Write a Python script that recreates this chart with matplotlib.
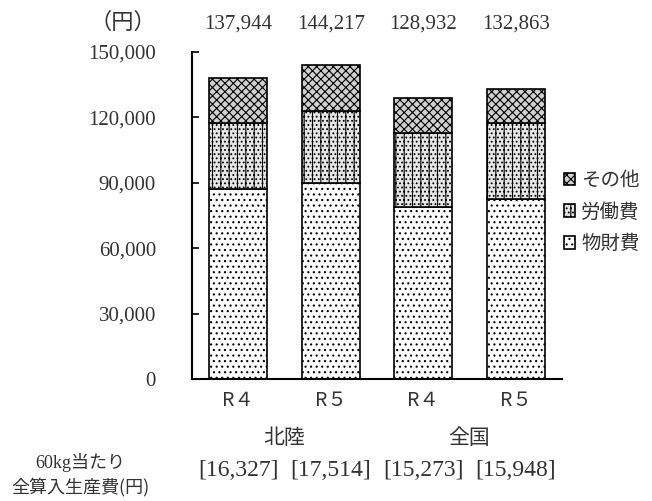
import matplotlib.pyplot as plt
import matplotlib.transforms as mtransforms
import numpy as np

plt.rcParams["font.family"] = ["Liberation Serif", "Noto Sans CJK JP"]
plt.rcParams["hatch.linewidth"] = 0.8

groups = ["北陸", "全国"]
years = ["R４", "R５", "R４", "R５"]
material = [87200, 90000, 79000, 82500]      # 物財費
labor = [30300, 33000, 34000, 35000]         # 労働費
totals = [137944, 144217, 128932, 132863]
other = [t - m - l for t, m, l in zip(totals, material, labor)]  # その他
per60kg = ["[16,327]", "[17,514]", "[15,273]", "[15,948]"]

fig = plt.figure(figsize=(6.52, 5.01), dpi=100)
ax = fig.add_axes([192 / 652, 1 - 379 / 501, 370 / 652, 327 / 501])

x = np.arange(len(years))
w = 0.63
txt = "#333333"
cjk = ["Noto Sans CJK JP"]

b1 = ax.bar(x, material, w, color="white", edgecolor="black", hatch="...", linewidth=1.2, label="物財費")
b2 = ax.bar(x, labor, w, bottom=material, color="#e6e6e6", edgecolor="black", hatch="||....",
            linewidth=1.2, label="労働費")
b3 = ax.bar(x, other, w, bottom=np.add(material, labor), color="#d0d0d0", edgecolor="black",
            hatch="xxxx", linewidth=1.2, label="その他")

ax.set_xlim(-0.5, 3.5)
ax.set_ylim(0, 150000)
ax.set_yticks(range(0, 150001, 30000))
ax.set_yticklabels([f"{v:,}" for v in range(0, 150001, 30000)], fontsize=15, color=txt)
ax.set_xticks(x)
ax.set_xticklabels(years, fontsize=14, color=txt, family=cjk)
ax.tick_params(axis="y", direction="in", length=5, width=1.2, pad=26)
ax.tick_params(axis="x", length=0, pad=8)
for s in ["top", "right"]:
    ax.spines[s].set_visible(False)
ax.spines["left"].set_linewidth(1.5)
ax.spines["bottom"].set_linewidth(1.5)

for xi, t in zip(x, totals):
    ax.text(xi, 1.085, f"{t:,}", transform=ax.get_xaxis_transform(), ha="center", va="center",
            fontsize=15, color=txt)
fig.text(123 / 652, 1 - 22 / 501, "（円）", ha="center", va="center", fontsize=16, color=txt, family=cjk)

fig.text(284 / 652, 1 - 438 / 501, groups[0], ha="center", va="center", fontsize=15, color=txt, family=cjk)
fig.text(469 / 652, 1 - 438 / 501, groups[1], ha="center", va="center", fontsize=15, color=txt, family=cjk)

fig.text(80 / 652, 1 - 463 / 501, "60kg当たり", ha="center", va="center", fontsize=13, color=txt)
fig.text(80 / 652, 1 - 487 / 501, "全算入生産費(円)", ha="center", va="center", fontsize=13, color=txt,
         family=cjk)
bt = mtransforms.blended_transform_factory(ax.transData, fig.transFigure)
for xi, s in zip(x, per60kg):
    ax.text(xi, 1 - 471 / 501, s, transform=bt, ha="center", va="center", fontsize=17, color=txt)

handles = [b3, b2, b1]
fig.legend(handles, [h.get_label() for h in handles], loc="center left",
           bbox_to_anchor=(546 / 652, 1 - 212 / 501), frameon=False,
           prop={"family": cjk, "size": 14},
           handlelength=0.6, handleheight=0.6, handletextpad=0.3, labelspacing=0.55,
           labelcolor=txt)

fig.savefig("out.png", dpi=100)
